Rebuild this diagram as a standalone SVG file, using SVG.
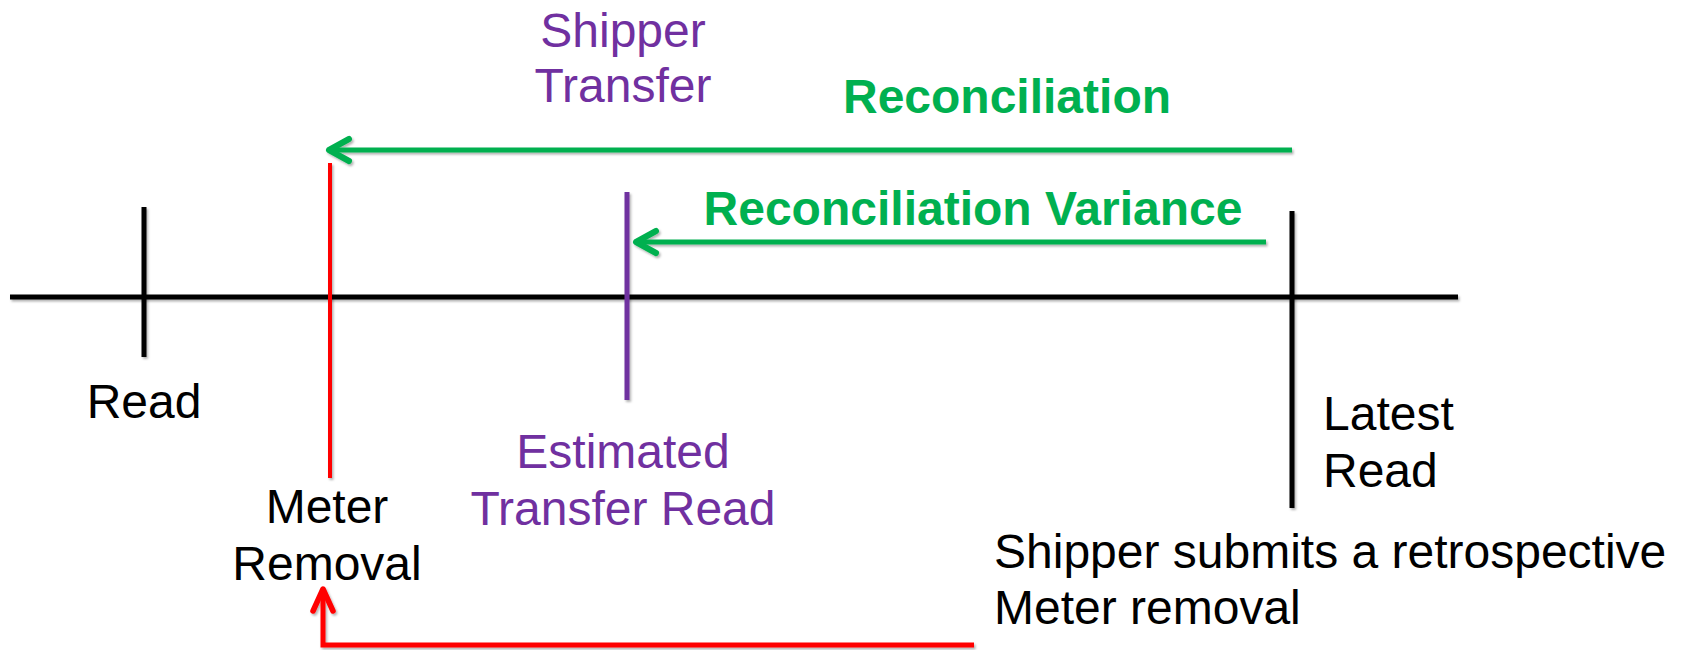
<svg xmlns="http://www.w3.org/2000/svg" width="1682" height="650" viewBox="0 0 1682 650">
<style>
text{font-family:"Liberation Sans",Arial,sans-serif;font-size:48px}
.blk{fill:#000}
.pur{fill:#7030A0}
.grn{fill:#00B050;font-weight:bold}
.ln{fill:none;stroke-linecap:butt;filter:url(#sh)}
</style>
<defs>
<filter id="sh" filterUnits="userSpaceOnUse" x="0" y="0" width="1682" height="650">
<feDropShadow dx="1.5" dy="2" stdDeviation="1.2" flood-color="#000" flood-opacity="0.3"/>
</filter>
<marker id="ag" markerUnits="userSpaceOnUse" markerWidth="40" markerHeight="40" viewBox="-30 -20 40 40" refX="0" refY="0" orient="auto">
<path d="M-20,-11 L0,0 L-20,11" fill="none" stroke="#00B050" stroke-width="6" stroke-linecap="round" stroke-linejoin="round"/>
</marker>
<marker id="ar" markerUnits="userSpaceOnUse" markerWidth="40" markerHeight="40" viewBox="-30 -20 40 40" refX="0" refY="0" orient="auto">
<path d="M-22,-10 L0,0 L-22,10" fill="none" stroke="#FF0000" stroke-width="5.5" stroke-linecap="round" stroke-linejoin="round"/>
</marker>
</defs>
<rect width="1682" height="650" fill="#fff"/>

<g id="timeline">
<line class="ln" x1="10" y1="297" x2="1458" y2="297" stroke="#000" stroke-width="5"/>
</g>

<g id="read">
<line class="ln" x1="144" y1="207" x2="144" y2="357" stroke="#000" stroke-width="5"/>
<text class="blk" x="144" y="418" text-anchor="middle">Read</text>
</g>

<g id="meter-removal">
<line class="ln" x1="330" y1="163" x2="330" y2="478" stroke="#FF0000" stroke-width="4"/>
<text class="blk" x="327" y="523" text-anchor="middle">Meter</text>
<text class="blk" x="327" y="580" text-anchor="middle">Removal</text>
</g>

<g id="shipper-transfer">
<line class="ln" x1="627" y1="192" x2="627" y2="400" stroke="#7030A0" stroke-width="5"/>
<text class="pur" x="623" y="47" text-anchor="middle">Shipper</text>
<text class="pur" x="623" y="102" text-anchor="middle">Transfer</text>
<text class="pur" x="623" y="468" text-anchor="middle">Estimated</text>
<text class="pur" x="623" y="525" text-anchor="middle">Transfer Read</text>
</g>

<g id="latest-read">
<line class="ln" x1="1292" y1="211" x2="1292" y2="508" stroke="#000" stroke-width="5"/>
<text class="blk" x="1323" y="430">Latest</text>
<text class="blk" x="1323" y="487">Read</text>
</g>

<g id="retro-note">
<text class="blk" x="994" y="568">Shipper submits a retrospective</text>
<text class="blk" x="994" y="624">Meter removal</text>
</g>

<g id="labels">
<text class="grn" x="1007" y="113" text-anchor="middle">Reconciliation</text>
<text class="grn" x="973" y="225" text-anchor="middle">Reconciliation Variance</text>
</g>

<g id="connectors">
<line class="ln" x1="1292" y1="150" x2="329" y2="150" stroke="#00B050" stroke-width="5" marker-end="url(#ag)"/>
<line class="ln" x1="1266" y1="242" x2="636" y2="242" stroke="#00B050" stroke-width="5" marker-end="url(#ag)"/>
<polyline class="ln" points="974,645 323,645 323,589" stroke="#FF0000" stroke-width="5" marker-end="url(#ar)"/>
</g>
</svg>
